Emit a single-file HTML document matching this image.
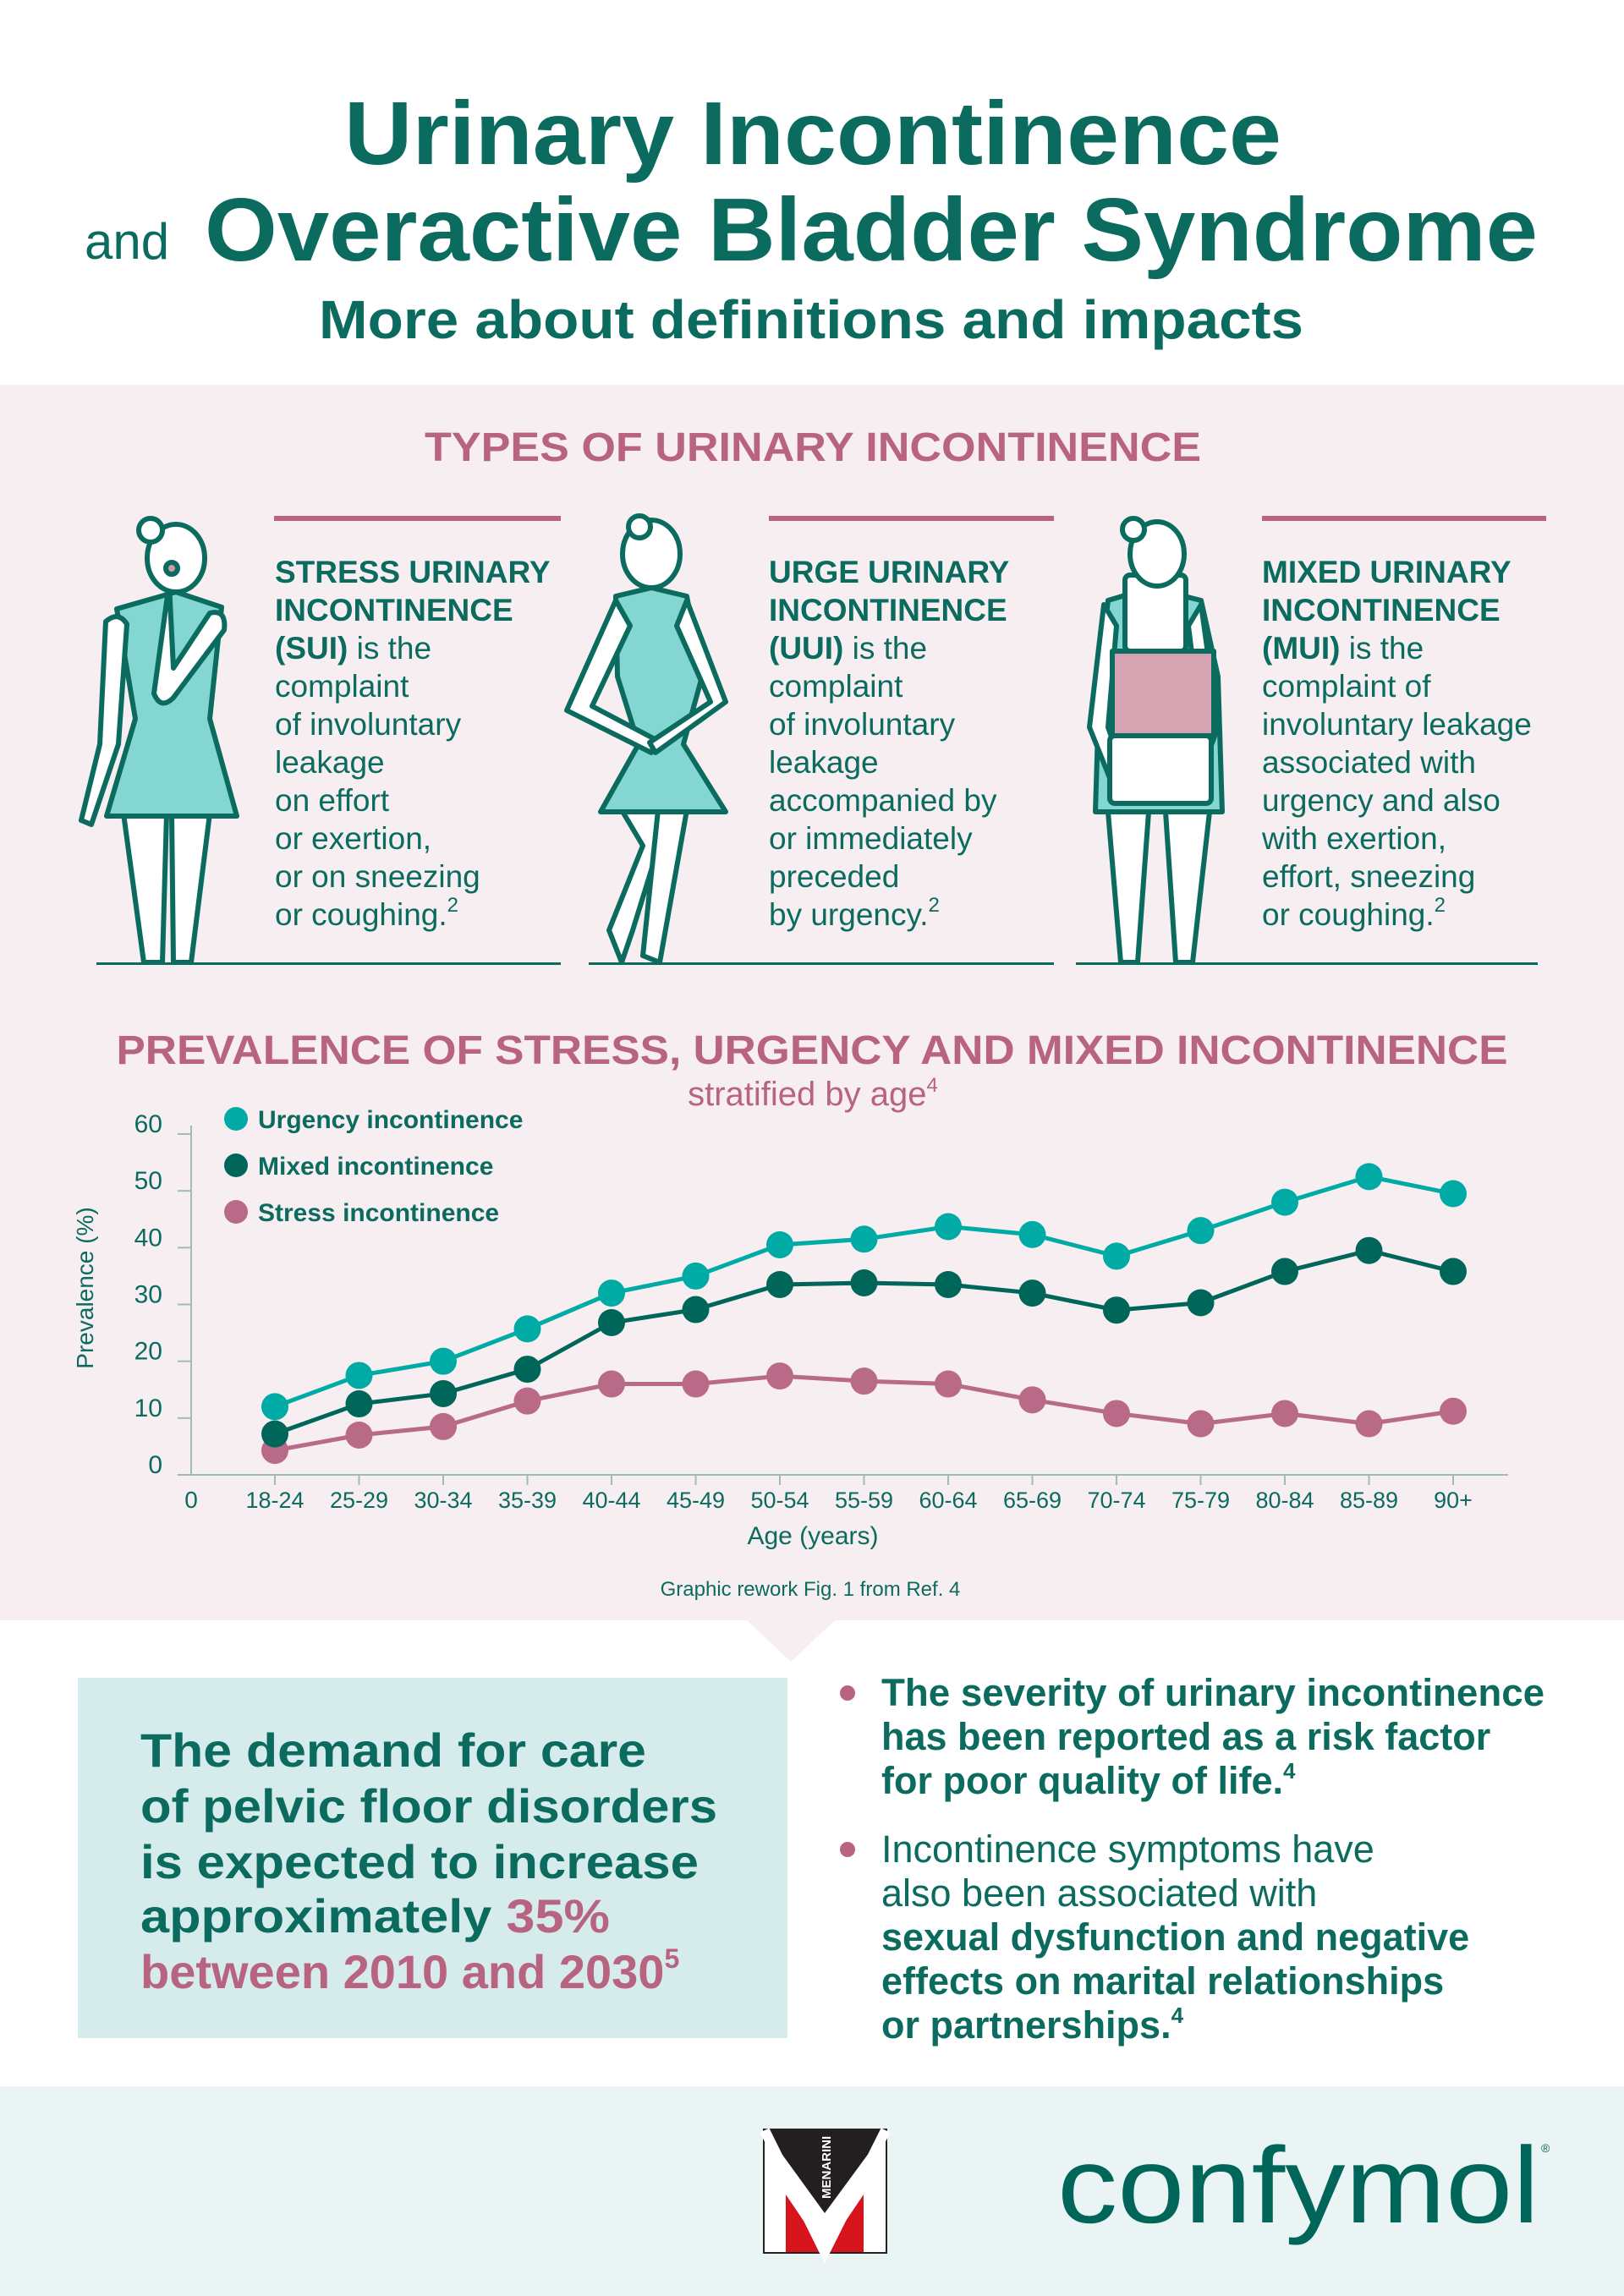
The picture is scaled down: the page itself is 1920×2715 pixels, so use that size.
<!DOCTYPE html>
<html><head><meta charset="utf-8">
<style>
html,body{margin:0;padding:0;background:#fff;}
svg{display:block;}
text{font-family:"Liberation Sans",sans-serif;}
</style></head>
<body>
<svg id="page" width="1920" height="2715" viewBox="0 0 1920 2715" xmlns="http://www.w3.org/2000/svg">
<rect width="1920" height="2715" fill="#ffffff"/>
<g fill="#0b6b5f">
<text x="961" y="194" text-anchor="middle" font-size="106" font-weight="bold" textLength="1108" lengthAdjust="spacingAndGlyphs">Urinary Incontinence</text>
<text x="100" y="306" font-size="60">and</text>
<text x="242" y="308" font-size="106" font-weight="bold" textLength="1576" lengthAdjust="spacingAndGlyphs">Overactive Bladder Syndrome</text>
<text x="959" y="400" text-anchor="middle" font-size="64" font-weight="bold" textLength="1164" lengthAdjust="spacingAndGlyphs">More about definitions and impacts</text>
</g>
<path d="M0 455 H1920 V1916 H987 L935 1965 L883 1916 H0 Z" fill="#f7eef1"/>
<text x="961" y="545" text-anchor="middle" font-size="48" font-weight="bold" fill="#b8637f" textLength="918" lengthAdjust="spacingAndGlyphs">TYPES OF URINARY INCONTINENCE</text>

<g>
<rect x="324" y="610" width="339" height="6" fill="#b8637f"/>
<rect x="909" y="610" width="337" height="6" fill="#b8637f"/>
<rect x="1492" y="610" width="336" height="6" fill="#b8637f"/>
<rect x="114" y="1138" width="549" height="3" fill="#0b6b5f"/>
<rect x="696" y="1138" width="550" height="3" fill="#0b6b5f"/>
<rect x="1272" y="1138" width="546" height="3" fill="#0b6b5f"/>
</g>

<g stroke="#0b6b5f" stroke-width="6" stroke-linejoin="round" fill="#fff">
<path d="M146 962 L170 1138 L192 1138 L197 962 Z"/>
<path d="M203 962 L205 1138 L226 1138 L248 962 Z"/>
<path d="M138 720 L208 700 L262 718 L248 850 L280 965 L126 965 L160 850 Z" fill="#84d6d3"/>
<path d="M125 735 Q140 722 150 738 L140 880 L108 975 L96 970 L118 880 Z"/>
<path d="M200 690 L182 820 Q190 840 205 825 L265 745 Q268 720 248 725 L205 790 Z"/>
<ellipse cx="208" cy="660" rx="34" ry="40"/>
<circle cx="178" cy="627" r="14"/>
<circle cx="203" cy="672" r="7" fill="#d39aab"/>
</g>
<g stroke="#0b6b5f" stroke-width="6" stroke-linejoin="round" fill="#fff">
<path d="M735 958 L760 1000 L720 1100 L735 1138 L748 1100 L792 958 Z"/>
<path d="M778 958 L760 1130 L780 1138 L812 958 Z"/>
<path d="M728 705 L770 695 L812 705 L830 800 L808 880 L858 960 L710 960 L755 880 L730 800 Z" fill="#84d6d3"/>
<path d="M728 710 L670 840 L770 890 L776 875 L700 835 L745 740 Z"/>
<path d="M812 710 L858 830 L775 890 L768 878 L840 830 L800 740 Z"/>
<ellipse cx="770" cy="655" rx="34" ry="40"/>
<circle cx="756" cy="623" r="13"/>
</g>
<g stroke="#0b6b5f" stroke-width="6" stroke-linejoin="round" fill="#fff">
<path d="M1310 960 L1325 1138 L1345 1138 L1358 960 Z"/>
<path d="M1378 960 L1390 1138 L1410 1138 L1430 960 Z"/>
<path d="M1310 710 L1360 695 L1420 710 L1440 800 L1445 960 L1295 960 L1300 800 Z" fill="#84d6d3"/>
<path d="M1305 715 L1288 860 L1320 940 L1335 930 L1310 860 L1320 740 Z"/>
<path d="M1420 715 L1440 860 L1410 940 L1395 930 L1420 860 L1405 740 Z"/>
<rect x="1330" y="680" width="72" height="90" rx="6"/>
<rect x="1315" y="770" width="120" height="100" fill="#d6a3b2"/>
<rect x="1312" y="870" width="120" height="80" rx="6"/>
<ellipse cx="1368" cy="655" rx="32" ry="38"/>
<circle cx="1340" cy="626" r="13"/>
</g>

<g font-size="37" fill="#0b6b5f">
<text x="325" y="689" font-weight="bold">STRESS URINARY</text>
<text x="325" y="734" font-weight="bold">INCONTINENCE</text>
<text x="325" y="779"><tspan font-weight="bold">(SUI)</tspan> is the</text>
<text x="325" y="824">complaint</text>
<text x="325" y="869">of involuntary</text>
<text x="325" y="914">leakage</text>
<text x="325" y="959">on effort</text>
<text x="325" y="1004">or exertion,</text>
<text x="325" y="1049">or on sneezing</text>
<text x="325" y="1094">or coughing.<tspan font-size="24" dy="-16">2</tspan></text>
</g>
<g font-size="37" fill="#0b6b5f">
<text x="909" y="689" font-weight="bold">URGE URINARY</text>
<text x="909" y="734" font-weight="bold">INCONTINENCE</text>
<text x="909" y="779"><tspan font-weight="bold">(UUI)</tspan> is the</text>
<text x="909" y="824">complaint</text>
<text x="909" y="869">of involuntary</text>
<text x="909" y="914">leakage</text>
<text x="909" y="959">accompanied by</text>
<text x="909" y="1004">or immediately</text>
<text x="909" y="1049">preceded</text>
<text x="909" y="1094">by urgency.<tspan font-size="24" dy="-16">2</tspan></text>
</g>
<g font-size="37" fill="#0b6b5f">
<text x="1492" y="689" font-weight="bold">MIXED URINARY</text>
<text x="1492" y="734" font-weight="bold">INCONTINENCE</text>
<text x="1492" y="779"><tspan font-weight="bold">(MUI)</tspan> is the</text>
<text x="1492" y="824">complaint of</text>
<text x="1492" y="869">involuntary leakage</text>
<text x="1492" y="914">associated with</text>
<text x="1492" y="959">urgency and also</text>
<text x="1492" y="1004">with exertion,</text>
<text x="1492" y="1049">effort, sneezing</text>
<text x="1492" y="1094">or coughing.<tspan font-size="24" dy="-16">2</tspan></text>
</g>

<text x="960" y="1258" text-anchor="middle" font-size="48" font-weight="bold" fill="#b8637f" textLength="1645" lengthAdjust="spacingAndGlyphs">PREVALENCE OF STRESS, URGENCY AND MIXED INCONTINENCE</text>
<text x="961" y="1307" text-anchor="middle" font-size="40" fill="#b8637f">stratified by age<tspan font-size="24" dy="-16">4</tspan></text>

<g id="chart"></g>

<text x="958" y="1887" text-anchor="middle" font-size="24" fill="#0b6b5f">Graphic rework Fig. 1 from Ref. 4</text>

<rect x="92" y="1984" width="839" height="426" fill="#d6ecec"/>
<g font-size="56" font-weight="bold" fill="#0b6b5f">
<text x="166" y="2089" textLength="598" lengthAdjust="spacingAndGlyphs">The demand for care</text>
<text x="166" y="2155" textLength="682" lengthAdjust="spacingAndGlyphs">of pelvic floor disorders</text>
<text x="166" y="2221" textLength="660" lengthAdjust="spacingAndGlyphs">is expected to increase</text>
<text x="166" y="2285" textLength="555" lengthAdjust="spacingAndGlyphs">approximately <tspan fill="#b8637f">35%</tspan></text>
<text x="166" y="2351" fill="#b8637f">between 2010 and 2030<tspan font-size="32" dy="-24">5</tspan></text>
</g>
<g font-size="45" fill="#0b6b5f">
<circle cx="1002" cy="2002" r="9" fill="#b8637f"/>
<text x="1042" y="2017" font-weight="bold" textLength="784" lengthAdjust="spacingAndGlyphs">The severity of urinary incontinence</text>
<text x="1042" y="2069" font-weight="bold">has been reported as a risk factor</text>
<text x="1042" y="2121" font-weight="bold">for poor quality of life.<tspan font-size="26" dy="-18">4</tspan></text>
<circle cx="1002" cy="2187" r="9" fill="#b8637f"/>
<text x="1042" y="2202">Incontinence symptoms have</text>
<text x="1042" y="2254">also been associated with</text>
<text x="1042" y="2306" font-weight="bold">sexual dysfunction and negative</text>
<text x="1042" y="2358" font-weight="bold">effects on marital relationships</text>
<text x="1042" y="2410" font-weight="bold">or partnerships.<tspan font-size="26" dy="-18">4</tspan></text>
</g>

<rect x="0" y="2467" width="1920" height="248" fill="#eaf4f5"/>
<g>
<rect x="903" y="2518" width="145" height="146" fill="#fff" stroke="#222" stroke-width="2"/>
<path d="M904 2519 H1047 L975 2617 Z" fill="#231f20"/>
<path d="M929 2595 L975 2663 L1021 2595 V2663 H929 Z" fill="#d7141c"/>
<path d="M904 2519 L975 2663 L1047 2519" fill="none" stroke="#fff" stroke-width="12"/>
<text x="0" y="0" transform="translate(982 2600) rotate(-90)" font-size="15" font-weight="bold" fill="#fff">MENARINI</text>
</g>
<text x="1250" y="2628" font-size="128" fill="#00665a" textLength="570" lengthAdjust="spacingAndGlyphs">confymol</text>
<text x="1822" y="2545" font-size="14" fill="#00665a">®</text>
</svg>
<script>
const categories = ["18-24","25-29","30-34","35-39","40-44","45-49","50-54","55-59","60-64","65-69","70-74","75-79","80-84","85-89","90+"];
const urgencyValues = [12, 17.5, 20, 25.7, 32, 35, 40.5, 41.5, 43.7, 42.3, 38.5, 43, 48, 52.5, 49.5];
const mixedValues = [7.2, 12.5, 14.3, 18.6, 26.8, 29.1, 33.5, 33.8, 33.5, 32, 29, 30.3, 35.8, 39.5, 35.8];
const stressValues = [4.3, 7, 8.5, 13, 16, 16, 17.4, 16.5, 16, 13.2, 10.8, 9, 10.8, 9, 11.2];
const yTicks = [0, 10, 20, 30, 40, 50, 60];
const legendLabels = ["Urgency incontinence", "Mixed incontinence", "Stress incontinence"];

const NS = "http://www.w3.org/2000/svg";
const chart = document.getElementById("chart");
const X0 = 226, XFIRST = 325, XSTEP = 99.5, Y0 = 1744, YTOP = 1341, YMAX = 60;
function xPos(i){ return XFIRST + i * XSTEP; }
function yPos(v){ return Y0 - (v / YMAX) * (Y0 - YTOP); }
function mk(tag, attrs, parent){
  const el = document.createElementNS(NS, tag);
  for (const k in attrs) el.setAttribute(k, attrs[k]);
  (parent || chart).appendChild(el);
  return el;
}
const axisColor = "#9fbcb8", teal = "#0b6b5f";
let yAxis = mk("line", {x1: X0, y1: YTOP - 10, x2: X0, y2: Y0, stroke: axisColor, "stroke-width": 2});


let xAxis = mk("line", {x1: X0 - 16, y1: Y0, x2: 1783, y2: Y0, stroke: axisColor, "stroke-width": 2});


yTicks.forEach(function(t){
  const tk = mk("line", {x1: X0 - 16, y1: yPos(t), x2: X0, y2: yPos(t), stroke: axisColor, "stroke-width": 2});
  
  
  const lb = mk("text", {x: 192, y: yPos(t) - 2, "text-anchor": "end", "font-size": 30, fill: teal});
  
  
  lb.textContent = t;
});
const zero = mk("text", {x: X0, y: 1783, "text-anchor": "middle", "font-size": 28, fill: teal});


zero.textContent = "0";
categories.forEach(function(c, i){
  const tk = mk("line", {x1: xPos(i), y1: Y0, x2: xPos(i), y2: Y0 + 12, stroke: axisColor, "stroke-width": 2});
  
  
  const lb = mk("text", {x: xPos(i), y: 1783, "text-anchor": "middle", "font-size": 27, fill: teal});
  
  
  lb.textContent = c;
});
const xt = mk("text", {x: 961, y: 1826, "text-anchor": "middle", "font-size": 30, fill: teal});


xt.textContent = "Age (years)";
const yt = mk("text", {x: 0, y: 0, transform: "translate(110 1523) rotate(-90)", "text-anchor": "middle", "font-size": 28, fill: teal});


yt.textContent = "Prevalence (%)";

const series = [
  {name: "stress", vals: stressValues, color: "#b86a86"},
  {name: "mixed", vals: mixedValues, color: "#00665a"},
  {name: "urgency", vals: urgencyValues, color: "#00aaa5"}
];
series.forEach(function(s){
  const pts = s.vals.map(function(v, i){ return xPos(i) + "," + yPos(v); }).join(" ");
  const pl = mk("polyline", {points: pts, fill: "none", stroke: s.color, "stroke-width": 5});
  
  
  s.vals.forEach(function(v, i){
    const c = mk("circle", {cx: xPos(i), cy: yPos(v), r: 16, fill: s.color});
    
    
  });
});
const legendColors = ["#00aaa5", "#00665a", "#b86a86"];
legendLabels.forEach(function(l, i){
  const y = 1323 + i * 55;
  const d = mk("circle", {cx: 279, cy: y, r: 14, fill: legendColors[i]});
  
  
  const t = mk("text", {x: 305, y: y + 11, "font-size": 30, "font-weight": "bold", fill: teal});
  
  
  t.textContent = l;
});
</script>
</body></html>
